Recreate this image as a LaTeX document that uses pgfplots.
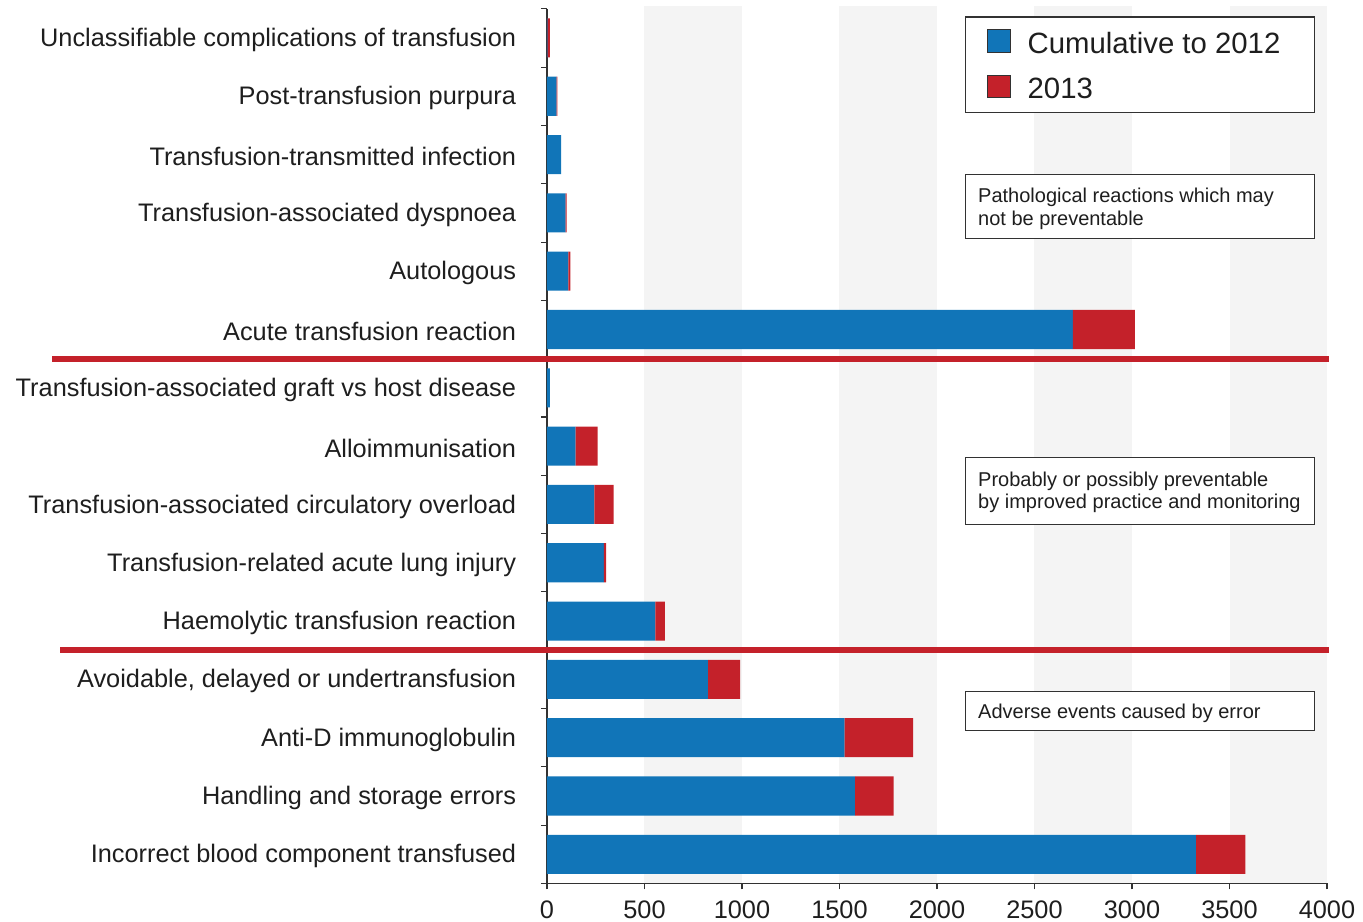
\documentclass[border=0pt]{standalone}
\usepackage{fontspec}
\setmainfont{Liberation Sans}
\usepackage{pgfplots}
\usepackage{pgfplotstable}
\pgfplotsset{compat=1.18}
\definecolor{cblue}{RGB}{17,117,184}
\definecolor{cred}{RGB}{196,33,42}
\definecolor{band}{RGB}{244,244,244}
\definecolor{axisgray}{RGB}{50,50,50}
\definecolor{txt}{RGB}{30,30,30}

\pgfplotstableread{
idx cum y2013
0 3 12
1 50 3
2 72 0
3 96 5
4 110 10
5 2697 318
6 15 0
7 147 113
8 243 99
9 292 11
10 556 49
11 826 164
12 1526 352
13 1580 198
14 3329 252
}\datatable

\begin{document}
\begin{tikzpicture}
\begin{axis}[
  reverse stacked plots=false,
  scale only axis, width=585pt, height=656pt,
  xbar stacked, bar width=0.67,
  y dir=reverse,
  xmin=0, xmax=4000, ymin=-0.5, ymax=14.5,
  enlargelimits=false,
  clip=false,
  axis x line*=bottom, axis y line*=left,
  axis line style={-, draw=axisgray, line width=0.9pt},
  xtick={0,500,...,4000},
  ytick={-0.5,0.5,...,14.5},
  y tick label as interval,
  yticklabels={Unclassifiable complications of transfusion,Post-transfusion purpura,Transfusion-transmitted infection,Transfusion-associated dyspnoea,Autologous,Acute transfusion reaction,Transfusion-associated graft vs host disease,Alloimmunisation,Transfusion-associated circulatory overload,Transfusion-related acute lung injury,Haemolytic transfusion reaction,{Avoidable, delayed or undertransfusion},Anti-D immunoglobulin,Handling and storage errors,Incorrect blood component transfused},
  tick align=outside,
  major tick length=4.5pt,
  tick style={draw=axisgray, line width=0.8pt},
  yticklabel style={font=\fontsize{19}{22}\selectfont, text=txt, inner sep=0pt, xshift=-18.5pt, yshift=-1.5pt},
  xticklabel style={font=\fontsize{19}{22}\selectfont, text=txt, inner sep=0pt, yshift=-8pt},
  /pgf/number format/assume math mode=true,
  /pgf/number format/1000 sep={},
  legend style={at={(rel axis cs:0.5641,0.977)}, anchor=north west, draw=none, fill=none, inner sep=0pt, row sep=14.5pt, font=\fontsize{22}{26}\selectfont, text=txt, nodes={inner sep=0pt}},
  legend cell align=left,
  legend image code/.code={\draw[#1, draw=axisgray, line width=0.6pt] (0pt,-6.5pt) rectangle (17pt,10.5pt); \path (30pt,0pt);},
]
\fill[band] (axis cs:500,-0.55) rectangle (axis cs:1000,14.5);
\fill[band] (axis cs:1500,-0.55) rectangle (axis cs:2000,14.5);
\fill[band] (axis cs:2500,-0.55) rectangle (axis cs:3000,14.5);
\fill[band] (axis cs:3500,-0.55) rectangle (axis cs:4000,14.5);

\addplot[fill=cblue, draw=none] table[x=cum, y=idx] {\datatable};
\addplot[fill=cred, draw=none] table[x=y2013, y=idx] {\datatable};
\legend{Cumulative to 2012, 2013}

\draw[cred, line width=4.5pt] (axis cs:-2538,5.5) -- (axis cs:4010,5.5);
\draw[cred, line width=4.5pt] (axis cs:-2497,10.5) -- (axis cs:4010,10.5);

\draw[axisgray, line width=0.8pt, fill=white] (axis cs:2144,-0.36) rectangle (axis cs:3938,1.285);
\draw[axisgray, line width=0.8pt, fill=white] (axis cs:2144,2.347) rectangle (axis cs:3938,3.444);
\node[anchor=west, align=left, font=\fontsize{15}{17}\selectfont, text=txt, inner sep=0pt, yshift=-1.5pt] at (axis cs:2210,2.896) {Pathological reactions which may\\not be preventable};
\draw[axisgray, line width=0.8pt, fill=white] (axis cs:2144,7.197) rectangle (axis cs:3938,8.345);
\node[anchor=west, align=left, font=\fontsize{15}{17}\selectfont, text=txt, inner sep=0pt, yshift=-1pt] at (axis cs:2210,7.771) {Probably or possibly preventable\\by improved practice and monitoring};
\draw[axisgray, line width=0.8pt, fill=white] (axis cs:2144,11.206) rectangle (axis cs:3938,11.875);
\node[anchor=west, align=left, font=\fontsize{15}{17}\selectfont, text=txt, inner sep=0pt, yshift=-2pt] at (axis cs:2210,11.54) {Adverse events caused by error};
\end{axis}
\pgfresetboundingbox
\useasboundingbox (-410.25pt,-28.5pt) rectangle (612pt,662.6pt);
\end{tikzpicture}
\end{document}
